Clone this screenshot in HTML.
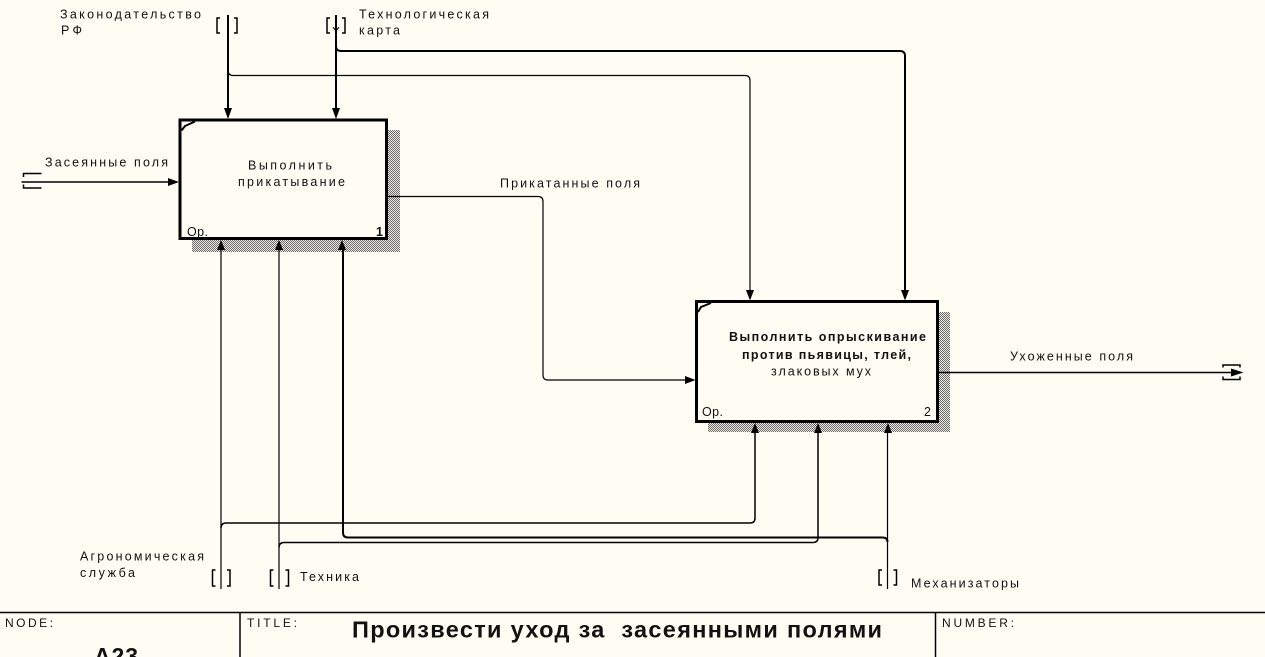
<!DOCTYPE html>
<html>
<head>
<meta charset="utf-8">
<style>
  html, body { margin: 0; padding: 0; background: #fffcf4; }
  body { width: 1265px; height: 657px; overflow: hidden; }
  svg { display: block; }
  text { font-family: "Liberation Sans", "DejaVu Sans", sans-serif; fill: #111; }
</style>
</head>
<body>
<svg width="1265" height="657" viewBox="0 0 1265 657" xmlns="http://www.w3.org/2000/svg">
  <defs>
    <pattern id="hatch" width="2" height="2" patternUnits="userSpaceOnUse">
      <rect width="2" height="2" fill="#eeebe4"/>
      <rect x="0" y="0" width="1" height="1" fill="#6a6a6a"/>
      <rect x="1" y="1" width="1" height="1" fill="#6a6a6a"/>
    </pattern>
  </defs>
  <rect width="1265" height="657" fill="#fffcf4"/>

  <!-- shadows -->
  <rect x="388" y="130" width="12" height="122" fill="url(#hatch)"/>
  <rect x="192" y="240" width="208" height="12" fill="url(#hatch)"/>
  <rect x="939" y="312" width="11" height="120" fill="url(#hatch)"/>
  <rect x="708" y="423" width="242" height="9" fill="url(#hatch)"/>

  <!-- boxes -->
  <rect x="180" y="120" width="206.5" height="118.5" fill="#fffcf4" stroke="#000" stroke-width="3"/>
  <path d="M181.5,130.5 L185,126 L195,121.5" fill="none" stroke="#000" stroke-width="2"/>
  <rect x="696.5" y="301.5" width="241" height="120" fill="#fffcf4" stroke="#000" stroke-width="3"/>
  <path d="M698,312 L701,307 L711,303" fill="none" stroke="#000" stroke-width="2"/>

  <g fill="none" stroke="#000">
    <!-- Законодательство РФ -->
    <path d="M228,15 V110" stroke-width="2"/>
    <path d="M220,18 H217 V33 H220 M234,18 H237 V33 H234" stroke-width="1.5"/>
    <path d="M228,70 Q228,75.5 233,75.5 H745 Q750,75.5 750,80.5 V292" stroke-width="1.2"/>
    <!-- Технологическая карта -->
    <path d="M336,15 V110" stroke-width="2"/>
    <path d="M330,18 H327 V33 H330 M342,18 H345 V33 H342" stroke-width="1.5"/>
    <path d="M333,27 L336,31 L339,27" stroke-width="1"/>
    <path d="M336,46 Q336,51 341,51 H900 Q905,51 905,56 V292" stroke-width="2"/>
    <!-- Засеянные поля -->
    <path d="M21.5,182 H170" stroke-width="1.5"/>
    <path d="M41.5,173.5 H23.5 V177 M41.5,188 H23.5 V184.5" stroke-width="1.5"/>
    <!-- Прикатанные поля -->
    <path d="M388,196.5 H538 Q543,196.5 543,201.5 V375 Q543,380 548,380 H686" stroke-width="1.2"/>
    <!-- Ухоженные поля -->
    <path d="M939,372.5 H1233" stroke-width="1.5"/>
    <path d="M1223,367.5 V365 H1240 V367.5 M1223,376.5 V379.5 H1240 V376.5" stroke-width="1.5"/>
    <!-- Агрономическая служба -->
    <path d="M221,589 V249" stroke-width="1.2"/>
    <path d="M215.5,570 H212.5 V586 H215.5 M227,570 H230 V586 H227" stroke-width="1.5"/>
    <path d="M221,528 Q221,523 226,523 H750 Q755,523 755,518 V432" stroke-width="1.5"/>
    <!-- Техника -->
    <path d="M279,589 V249" stroke-width="1.2"/>
    <path d="M273.5,570 H270.5 V586 H273.5 M285.5,570 H288.5 V586 H285.5" stroke-width="1.5"/>
    <path d="M279,547.5 Q279,542.5 284,542.5 H813 Q818,542.5 818,537.5 V432" stroke-width="1.5"/>
    <!-- Механизаторы -->
    <path d="M887.5,589 V432" stroke-width="1.2"/>
    <path d="M882,570 H879 V585 H882 M893.5,570 H896.5 V585 H893.5" stroke-width="1.5"/>
    <path d="M887.5,542 Q887.5,537.5 882.5,537.5 H348 Q343,537.5 343,532.5 V249" stroke-width="2"/>
  </g>

  <!-- arrowheads -->
  <g fill="#000">
    <polygon points="224,108 232,108 228,119"/>
    <polygon points="332,108 340,108 336,119"/>
    <polygon points="746,290 754,290 750,300.5"/>
    <polygon points="901,290 909,290 905,300.5"/>
    <polygon points="217,250 225,250 221,240"/>
    <polygon points="275,250 283,250 279,240"/>
    <polygon points="338,250 346,250 342,240"/>
    <polygon points="751,433 759,433 755,423"/>
    <polygon points="814,433 822,433 818,423"/>
    <polygon points="884,433 892,433 888,423"/>
    <polygon points="168,178 168,186 179,182"/>
    <polygon points="685,376 685,384 695.5,380"/>
    <polygon points="1231,368.5 1231,376.5 1243.5,372.5"/>
  </g>

  <!-- labels -->
  <g font-size="12.5">
    <text x="60" y="18.5" textLength="141" lengthAdjust="spacing">Законодательство</text>
    <text x="61" y="34.5" textLength="21" lengthAdjust="spacing">РФ</text>
    <text x="359" y="18.5" textLength="130" lengthAdjust="spacing">Технологическая</text>
    <text x="359" y="34.5" textLength="41" lengthAdjust="spacing">карта</text>
    <text x="45" y="166.5" textLength="123" lengthAdjust="spacing">Засеянные поля</text>
    <text x="500" y="187.5" textLength="140" lengthAdjust="spacing">Прикатанные поля</text>
    <text x="1010" y="360.5" textLength="123" lengthAdjust="spacing">Ухоженные поля</text>
    <text x="80" y="560.5" textLength="124" lengthAdjust="spacing">Агрономическая</text>
    <text x="80" y="577" textLength="55" lengthAdjust="spacing">служба</text>
    <text x="300" y="581" textLength="59" lengthAdjust="spacing">Техника</text>
    <text x="911" y="587.5" textLength="108" lengthAdjust="spacing">Механизаторы</text>

    <text x="248" y="169.5" textLength="84" lengthAdjust="spacing">Выполнить</text>
    <text x="238" y="186" textLength="107" lengthAdjust="spacing">прикатывание</text>
    <text x="187" y="236" textLength="21" lengthAdjust="spacing">Ор.</text>
    <text x="376" y="236" font-weight="bold">1</text>

    <text x="729" y="341" textLength="197" lengthAdjust="spacing" font-weight="bold">Выполнить опрыскивание</text>
    <text x="742" y="359" textLength="169" lengthAdjust="spacing" font-weight="bold">против пьявицы, тлей,</text>
    <text x="771" y="375.5" textLength="100" lengthAdjust="spacing">злаковых мух</text>
    <text x="702" y="416" textLength="21" lengthAdjust="spacing">Ор.</text>
    <text x="924" y="416">2</text>
  </g>

  <!-- footer -->
  <g fill="none" stroke="#000" stroke-width="1.5">
    <path d="M0,612.5 H1265"/>
    <path d="M240,612.5 V657"/>
    <path d="M935.5,612.5 V657"/>
  </g>
  <g font-size="12">
    <text x="5" y="627" textLength="48" lengthAdjust="spacing">NODE:</text>
    <text x="247" y="627" textLength="50" lengthAdjust="spacing">TITLE:</text>
    <text x="942" y="627" textLength="72" lengthAdjust="spacing">NUMBER:</text>
  </g>
  <text x="352" y="637.5" font-size="23.5" font-weight="bold" textLength="530" lengthAdjust="spacing">Произвести уход за&#160; засеянными полями</text>
  <text x="94" y="664" font-size="23" font-weight="bold" textLength="44" lengthAdjust="spacing">A23</text>
</svg>
</body>
</html>
